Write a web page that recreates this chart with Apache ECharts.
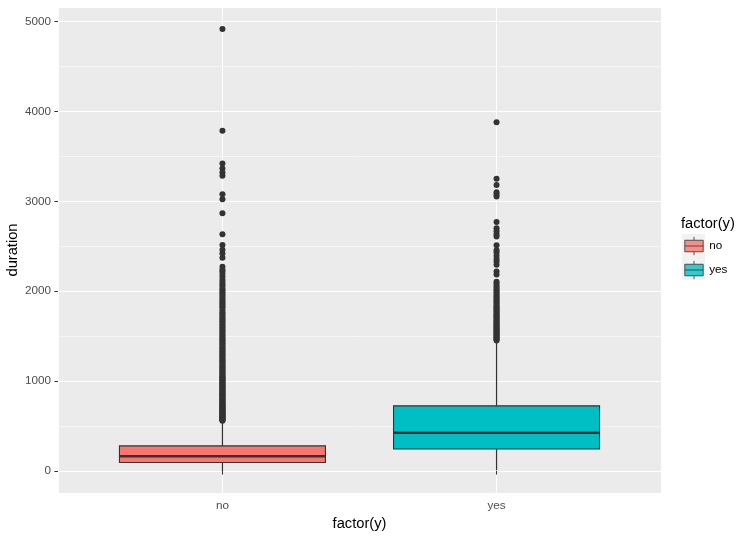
<!DOCTYPE html>
<html>
<head>
<meta charset="utf-8">
<script src="https://cdn.jsdelivr.net/npm/echarts@6/dist/echarts.min.js"></script>
<style>
  html, body { margin: 0; padding: 0; background: #fff; }
  #main { width: 752px; height: 537px; }
</style>
</head>
<body>
<div id="main"></div>
<script>
// groups on the x axis
var categories = ['no', 'yes'];
var fills = ['#F8766D', '#00BFC4'];

// box statistics, one entry per group
var whiskerLow = [0, 8];
var q1 = [95, 244];
var medians = [164, 426];
var q3 = [279, 725];
var whiskerHigh = [554, 1445];

// outlying points
var outliersNo = [4918, 3785, 3422, 3366, 3322, 3284, 3078, 3025, 2867, 2633,
    2516, 2462, 2420, 2372, 2272, 2240, 2219, 2191, 2160, 2129, 2103,
    2078, 2055, 2029, 2015, 1994, 1978, 1956, 1934, 1912, 1890, 1873, 1855, 1833, 1818,
    1795, 1772, 1756, 1739, 1720, 1700, 1682, 1666, 1649, 1631, 1612, 1598, 1580, 1562,
    1548, 1530, 1514, 1497, 1481, 1467, 1450, 1435, 1420, 1404, 1390, 1374, 1359, 1345,
    1331, 1316, 1302, 1288, 1274, 1260, 1247, 1233, 1220, 1207, 1193, 1180, 1167, 1154,
    1141, 1128, 1116, 1104, 1091, 1079, 1067, 1055, 1044, 1032, 1020, 1009, 998, 987,
    976, 965, 954, 944, 933, 923, 912, 902, 892, 882, 872, 862, 852, 843, 833, 824, 814,
    805, 796, 787, 778, 769, 760, 752, 743, 735, 726, 718, 710, 702, 694, 686, 678, 670,
    663, 655, 648, 640, 633, 626, 619, 612, 605, 598, 591, 585, 578, 572, 565, 559];
var outliersYes = [3881, 3252, 3182, 3102, 3076, 3053, 2770, 2701, 2668, 2635, 2609,
    2511, 2456, 2430, 2395, 2360, 2330, 2295, 2219, 2186,
    2106, 2087, 2062, 2041, 2020, 2005, 1987, 1970, 1950, 1932, 1917, 1899, 1882, 1868,
    1850, 1834, 1820, 1806, 1790, 1777, 1762, 1748, 1734, 1720, 1707, 1694, 1680, 1668,
    1655, 1642, 1630, 1618, 1606, 1594, 1582, 1571, 1560, 1548, 1537, 1526, 1515, 1504,
    1494, 1483, 1473, 1462, 1452];

// minor grid lines of the y axis
var yMinorLines = [500, 1500, 2500, 3500, 4500];

var FONT = 'Liberation Sans, Arial, Helvetica, sans-serif';
var BOX_HALF = 0.375;   // half of ggplot's 0.75 box width, in x units
var INK = '#333333';
var KEY = 23;           // legend key size in px

var chart = echarts.init(document.getElementById('main'), null, { renderer: 'canvas' });

var boxData = categories.map(function (c, i) {
    return {
        name: c,
        value: [i + 1, q1[i], q1[i], medians[i], q3[i], q3[i]],
        itemStyle: { color: fills[i], borderColor: INK, borderWidth: 1.1 }
    };
});

var series = [];

// minor grid lines sit under everything
series.push({
    type: 'line',
    data: [],
    silent: true,
    markLine: {
        silent: true,
        z: 1,
        symbol: ['none', 'none'],
        label: { show: false },
        lineStyle: { color: '#ffffff', width: 0.55, type: 'solid' },
        emphasis: { disabled: true },
        data: yMinorLines.map(function (v) { return { yAxis: v }; })
    }
});

// whiskers
categories.forEach(function (c, i) {
    var x = i + 1;
    [[whiskerLow[i], q1[i]], [q3[i], whiskerHigh[i]]].forEach(function (seg) {
        series.push({
            type: 'line',
            silent: true,
            z: 3,
            symbol: 'none',
            lineStyle: { color: INK, width: 1.2 },
            data: [[x, seg[0]], [x, seg[1]]]
        });
    });
});

series.push({
    type: 'boxplot',
    z: 3,
    silent: true,
    boxWidth: [206, 206],
    data: boxData
});

// thick median bars
categories.forEach(function (c, i) {
    var x = i + 1;
    series.push({
        type: 'line',
        silent: true,
        z: 4,
        symbol: 'none',
        lineStyle: { color: INK, width: 2.5, cap: 'butt' },
        data: [[x - BOX_HALF, medians[i]], [x + BOX_HALF, medians[i]]]
    });
});

// outliers
[outliersNo, outliersYes].forEach(function (list, i) {
    series.push({
        type: 'scatter',
        silent: true,
        z: 5,
        symbolSize: 6,
        itemStyle: { color: INK, opacity: 1 },
        data: list.map(function (v) { return [i + 1, v]; })
    });
});

// legend entries
categories.forEach(function (c, i) {
    series.push({
        type: 'scatter',
        name: c,
        data: [],
        itemStyle: { color: fills[i], borderColor: INK, borderWidth: 1 }
    });
});

var option = {
    backgroundColor: '#ffffff',
    animation: false,
    textStyle: { fontFamily: FONT },
    title: {
        text: 'factor(y)',
        left: 681,
        top: 216,
        padding: 0,
        textStyle: { fontFamily: FONT, fontSize: 14.7, fontWeight: 'normal', color: '#000' }
    },
    legend: {
        orient: 'vertical',
        left: 682 + KEY * 0.1,
        top: 234 + KEY * 0.1,
        padding: 0,
        itemGap: KEY * 0.2,
        itemWidth: KEY * 0.8,
        itemHeight: KEY * 0.8,
        selectedMode: false,
        icon: 'path://M0,3H16V13H0Z M0,8H16 M8,0V3 M8,13V16',
        itemStyle: { borderColor: INK, borderWidth: 1 },
        textStyle: { fontFamily: FONT, fontSize: 11.7, color: '#000', padding: [0, 0, 0, 1] },
        data: categories
    },
    graphic: [
        { type: 'rect', left: 682, top: 234, z: 0, shape: { width: KEY, height: KEY }, style: { fill: '#F2F2F2' } },
        { type: 'rect', left: 682, top: 234 + KEY, z: 0, shape: { width: KEY, height: KEY }, style: { fill: '#F2F2F2' } }
    ],
    grid: {
        left: 58,
        right: 91,
        top: 7,
        bottom: 44,
        containLabel: false,
        outerBoundsMode: 'none',
        show: true,
        backgroundColor: '#EBEBEB',
        borderWidth: 0
    },
    xAxis: {
        type: 'value',
        min: 0.4,
        max: 2.6,
        splitNumber: 2,
        name: 'factor(y)',
        nameLocation: 'middle',
        nameGap: 23,
        nameMoveOverlap: false,
        nameTextStyle: { fontFamily: FONT, fontSize: 14.7, color: '#000' },
        axisLine: { show: false },
        axisTick: { show: true, length: 3.6, lineStyle: { color: INK, width: 1 } },
        axisLabel: {
            margin: 7,
            fontFamily: FONT,
            fontSize: 11.7,
            color: '#4D4D4D',
            showMinLabel: false,
            showMaxLabel: false,
            formatter: function (v) {
                return Number.isInteger(v) && categories[v - 1] ? categories[v - 1] : '';
            }
        },
        splitLine: { show: true, lineStyle: { color: '#ffffff', width: 1.1 } }
    },
    yAxis: {
        type: 'value',
        min: -245,
        max: 5163,
        splitNumber: 5,
        name: 'duration',
        nameLocation: 'middle',
        nameGap: 38,
        nameMoveOverlap: false,
        nameTextStyle: { fontFamily: FONT, fontSize: 14.7, color: '#000' },
        axisLine: { show: false },
        axisTick: { show: true, length: 3.6, lineStyle: { color: INK, width: 1 } },
        axisLabel: {
            margin: 7,
            fontFamily: FONT,
            fontSize: 11.7,
            color: '#4D4D4D',
            showMinLabel: false,
            showMaxLabel: false,
            formatter: function (v) { return v % 1000 === 0 ? String(v) : ''; }
        },
        splitLine: { show: true, lineStyle: { color: '#ffffff', width: 1.1 } }
    },
    series: series
};

chart.setOption(option);
</script>
</body>
</html>
